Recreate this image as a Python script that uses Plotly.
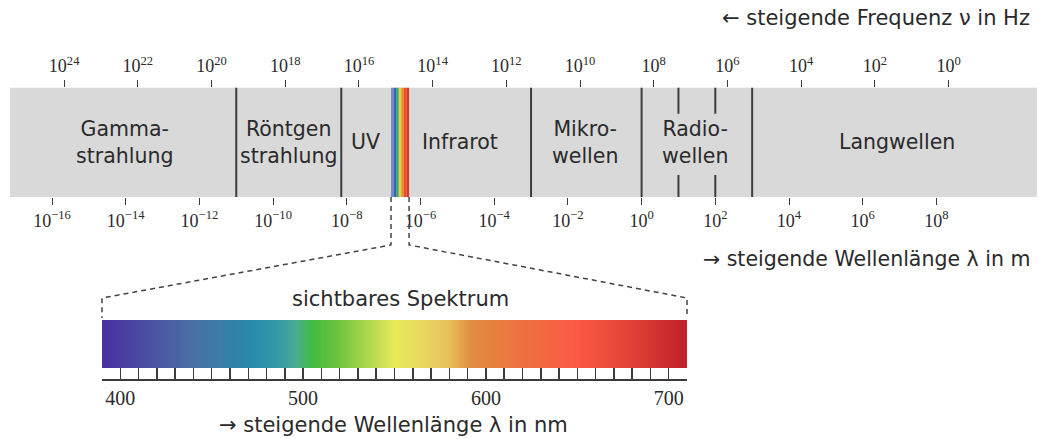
import numpy as np
import plotly.graph_objects as go

# ---------------- data ----------------
# wavelength axis (log10 of metres) and frequency axis (log10 of Hz)
wl_exponents = [-16, -14, -12, -10, -8, -6, -4, -2, 0, 2, 4, 6, 8]
freq_exponents = [24, 22, 20, 18, 16, 14, 12, 10, 8, 6, 4, 2, 0]

# band boundaries in log10(wavelength / m)
band_left = -17.14
band_right = 10.73
boundaries = [-11.0, -8.15, -3.0, 0.0, 3.0]
radio_sublines = [1.0, 2.0]
visible_left, visible_right = -6.80, -6.31
visible_strip_colors = ["#6f8cc4", "#3a62b0", "#3aa07a", "#d8d83c", "#f08a30", "#e8502c", "#d83a2a"]

band_names = ["Gamma-<br>strahlung", "Röntgen<br>strahlung", "UV", "Infrarot",
              "Mikro-<br>wellen", "Radio-<br>wellen", "Langwellen"]
band_label_pos = [-14.02, -9.57, -7.48, -4.93, -1.54, 1.45, 6.93]

# visible spectrum (nm)
vis_min, vis_max = 390, 710
vis_labels = [400, 500, 600, 700]
spec_nm = [390, 410, 440, 470, 485, 495, 505, 520, 540, 550, 565, 580, 592, 620, 650, 680, 710]
spec_col = ["#4a2fa0", "#4a48a0", "#4a70a6", "#2a88aa", "#3098a8", "#48aa98", "#40bc40",
            "#70c440", "#c0dc50", "#e8ea58", "#ead860", "#e8c058", "#e08c40", "#ee7040",
            "#fa5a44", "#e04034", "#c02028"]

# ---------------- layout geometry ----------------
W, H = 1040, 439
px_per_dec = 36.85
L0 = -16 - 52 / px_per_dec
L1 = -16 + (W - 52) / px_per_dec
K = 8.33  # offset between log(nu) and log(lambda) on the drawing

band_dom = [1 - 197 / H, 1 - 87.5 / H]
spec_xdom = [102 / W, 687 / W]
spec_ydom = [1 - 379 / H, 1 - 320 / H]
bar_bottom = 11 / 59

SANS = "DejaVu Sans"
SERIF = "Liberation Serif"
TXT = "#2a2a2a"
LINE = "#3c3c3c"


def xp_main(v):
    return (v - L0) / (L1 - L0)


def xp_spec(nm):
    return spec_xdom[0] + (nm - vis_min) / (vis_max - vis_min) * (spec_xdom[1] - spec_xdom[0])


def yp(px):
    return 1 - px / H


fig = go.Figure()

# visible spectrum gradient
edges = np.arange(vis_min, vis_max + 1, 1)
mids = (edges[:-1] + edges[1:]) / 2
cs = [[(n - vis_min) / (vis_max - vis_min), c] for n, c in zip(spec_nm, spec_col)]
fig.add_trace(go.Heatmap(x=edges, y=[bar_bottom, 1], z=[mids], colorscale=cs,
                         zmin=vis_min, zmax=vis_max, showscale=False, hoverinfo="skip",
                         xaxis="x3", yaxis="y3"))

# invisible traces to activate main axes
fig.add_trace(go.Scatter(x=[L0, L1], y=[0, 0], mode="markers", marker=dict(opacity=0),
                         showlegend=False, hoverinfo="skip", xaxis="x", yaxis="y"))
fig.add_trace(go.Scatter(x=[K - L0, K - L1], y=[0, 0], mode="markers", marker=dict(opacity=0),
                         showlegend=False, hoverinfo="skip", xaxis="x2", yaxis="y"))

shapes = []
# grey band
shapes.append(dict(type="rect", xref="x", yref="y", x0=band_left, x1=band_right, y0=0, y1=1,
                   fillcolor="#d9d9d9", line=dict(width=0), layer="below"))
# visible strip in band
n = len(visible_strip_colors)
step = (visible_right - visible_left) / n
for i, c in enumerate(visible_strip_colors):
    shapes.append(dict(type="rect", xref="x", yref="y", x0=visible_left + i * step,
                       x1=visible_left + (i + 1) * step, y0=0, y1=1, fillcolor=c,
                       line=dict(width=0), layer="below"))
# boundaries
for b in boundaries:
    shapes.append(dict(type="line", xref="x", yref="y", x0=b, x1=b, y0=0, y1=1,
                       line=dict(color=LINE, width=2)))
for b in radio_sublines:
    shapes.append(dict(type="line", xref="x", yref="y", x0=b, x1=b, y0=0.76, y1=1,
                       line=dict(color=LINE, width=2)))
    shapes.append(dict(type="line", xref="x", yref="y", x0=b, x1=b, y0=0, y1=0.2,
                       line=dict(color=LINE, width=2)))

# dashed connectors
dash_line = dict(color="#444444", width=1.5, dash="5px,4px")
for vx, nm in [(visible_left, vis_min), (visible_right, vis_max)]:
    x_a = xp_main(vx)
    x_b = xp_spec(nm)
    path = (f"M {x_a} {band_dom[0]} L {x_a} {yp(245)} L {x_b} {yp(298)} L {x_b} {yp(318)}")
    shapes.append(dict(type="path", xref="paper", yref="paper", path=path, line=dash_line))

annotations = []
for name, xpos in zip(band_names, band_label_pos):
    annotations.append(dict(x=xpos, y=0.5, xref="x", yref="y", text=name, showarrow=False,
                            font=dict(family=SANS, size=20.5, color=TXT), align="center"))
annotations.append(dict(x=1032 / W, y=yp(18), xref="paper", yref="paper", xanchor="right",
                        yanchor="middle", text="← steigende Frequenz ν in Hz", showarrow=False,
                        font=dict(family=SANS, size=21, color=TXT)))
annotations.append(dict(x=1032 / W, y=yp(259), xref="paper", yref="paper", xanchor="right",
                        yanchor="middle", text="→ steigende Wellenlänge λ in m", showarrow=False,
                        font=dict(family=SANS, size=20.5, color=TXT)))
annotations.append(dict(x=400 / W, y=yp(299), xref="paper", yref="paper",
                        xanchor="center", yanchor="middle", text="sichtbares Spektrum",
                        showarrow=False, font=dict(family=SANS, size=21, color=TXT)))
annotations.append(dict(x=393 / W, y=yp(425), xref="paper", yref="paper",
                        xanchor="center", yanchor="middle", text="→ steigende Wellenlänge λ in nm",
                        showarrow=False, font=dict(family=SANS, size=21, color=TXT)))


def sup(e):
    s = str(e).replace("-", "−")
    return f"10<sup>{s}</sup>"


tickfont = dict(family=SERIF, size=18, color=TXT)

fig.update_layout(
    width=W, height=H, margin=dict(l=0, r=0, t=0, b=0),
    paper_bgcolor="white", plot_bgcolor="rgba(0,0,0,0)", showlegend=False,
    shapes=shapes, annotations=annotations,
    xaxis=dict(domain=[0, 1], range=[L0, L1], anchor="y", side="bottom",
               tickmode="array", tickvals=wl_exponents, ticktext=[sup(e) for e in wl_exponents],
               ticks="outside", ticklen=7, tickwidth=1, tickcolor=LINE, tickfont=tickfont,
               showgrid=False, zeroline=False, showline=False, fixedrange=True),
    xaxis2=dict(overlaying="x", range=[K - L0, K - L1], anchor="y", side="top",
                tickmode="array", tickvals=freq_exponents, ticktext=[sup(e) for e in freq_exponents],
                ticks="outside", ticklen=7, tickwidth=1, tickcolor=LINE, tickfont=tickfont,
                showgrid=False, zeroline=False, showline=False, fixedrange=True),
    yaxis=dict(domain=band_dom, range=[0, 1], visible=False, fixedrange=True),
    xaxis3=dict(domain=spec_xdom, range=[vis_min, vis_max], anchor="y3",
                tickmode="array", tickvals=vis_labels, ticks="inside", ticklen=11,
                tickwidth=1.5, tickcolor=LINE, tickfont=dict(family=SERIF, size=20, color=TXT),
                minor=dict(tickmode="linear", tick0=vis_min, dtick=10, ticks="inside",
                           ticklen=11, tickwidth=1.5, tickcolor=LINE),
                showline=True, linecolor=LINE, linewidth=2, showgrid=False, zeroline=False,
                fixedrange=True),
    yaxis3=dict(domain=spec_ydom, range=[0, 1], visible=False, fixedrange=True, anchor="x3"),
)

fig.write_html("out.html", config={"displayModeBar": False, "staticPlot": True},
               post_script="document.body.style.margin='0';")
